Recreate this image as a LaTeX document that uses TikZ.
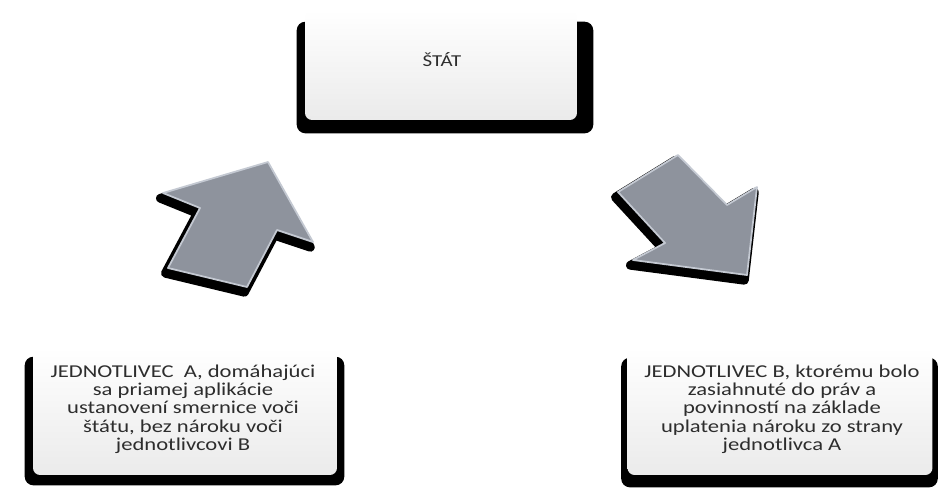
\documentclass[tikz,border=0pt]{standalone}
\usepackage{fontspec}
\setmainfont{Carlito}[FakeStretch=1.25]
\usepackage{tikz}
\usepackage{xcolor}
\usetikzlibrary{shapes,arrows}
\usetikzlibrary{calc}
\usetikzlibrary{backgrounds}
\definecolor{ArrowGray}{RGB}{142,147,157}
\definecolor{ArrowEdge}{RGB}{196,201,210}
\definecolor{BoxText}{RGB}{45,45,45}

\begin{document}
\begin{tikzpicture}[x=0.02cm,y=-0.02cm]
\tikzstyle{panel}=[rectangle,rounded corners=4pt,top color=white,bottom color=gray!16,inner sep=0pt]
\tikzstyle{caption}=[text=BoxText,align=center,inner sep=0pt,font=\fontsize{10.3}{10.4}\selectfont]
\tikzstyle{shade}=[fill=black,rounded corners=5pt]
\tikzstyle{blockarrow}=[fill=ArrowGray,draw=ArrowEdge,line width=1pt,line join=round,
  preaction={fill=black,draw=black,line width=5pt,line join=round,transform canvas={xshift=-1.5pt,yshift=-3pt}}]
\useasboundingbox (0,0) rectangle (947,491);
% state
\node[panel,minimum width=5.44cm,minimum height=2.2cm] (stat) at (441,65) {};
\node[caption,font=\fontsize{9.5}{11}\selectfont] (label_stat) at ($(stat.center)+(1,-5)$) {ŠTÁT};
% individuals
\node[panel,minimum width=6.08cm,minimum height=2.56cm] (indA) at (185,411) {};
\node[caption] (label_indA) at ($(indA.center)+(-2,-2)$) {JEDNOTLIVEC\ \ A, domáhajúci\\sa priamej aplikácie\\ustanovení smernice voči\\štátu, bez nároku voči\\jednotlivcovi B};
\node[panel,minimum width=6.1cm,minimum height=2.56cm] (indB) at (780,411) {};
\node[caption] (label_indB) at ($(indB.center)+(2,-2)$) {JEDNOTLIVEC B, ktorému bolo\\zasiahnuté do práv a\\povinností na základe\\uplatenia nároku zo strany\\jednotlivca A};
% shadows
\begin{scope}[on background layer]
\fill[shade] ($(stat.north west)+(-8,12)$) rectangle ($(stat.south east)+(16,13)$);
\fill[shade] ($(indA.north west)+(-8,10)$) rectangle ($(indA.south east)+(7,10)$);
\fill[shade] ($(indB.north west)+(-6,11)$) rectangle ($(indB.south east)+(5,12)$);
\end{scope}
% arrows
\path[blockarrow] (268,162) -- (313,242) -- (277,230) -- (247,287) -- (168,268) -- (200,208) -- (163,193) -- cycle;
\path[blockarrow] (678,155) -- (727,205) -- (757,187) -- (747,275) -- (633,260) -- (665,243) -- (618,192) -- cycle;
\end{tikzpicture}
\end{document}
